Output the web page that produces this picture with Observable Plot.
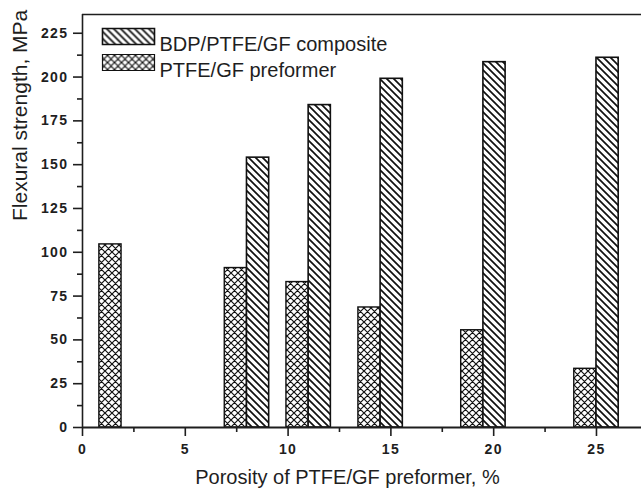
<!DOCTYPE html>
<html>
<head>
<meta charset="utf-8">
<script src="https://cdn.jsdelivr.net/npm/d3@7"></script>
<script src="https://cdn.jsdelivr.net/npm/@observablehq/plot@0.6"></script>
<style>
  html, body { margin: 0; padding: 0; background: white; }
  svg { display: block; }
  g[aria-label="y-axis tick label"] text,
  g[aria-label="x-axis tick label"] text { letter-spacing: 1.4px; }
</style>
</head>
<body>
<div id="chart"></div>
<script>
// ---- data ----
const porosity  = [1.9, 8, 11, 14.5, 19.5, 25];
const preformer = [104.5, 91, 83, 68.5, 55.5, 33.5];
const composite = [null, 154, 184, 199, 208.5, 211];
const seriesNames = ["BDP/PTFE/GF composite", "PTFE/GF preformer"];
const xTicks = [0, 5, 10, 15, 20, 25];
const xMinor = [2.5, 7.5, 12.5, 17.5, 22.5];
const yTicks = [0, 25, 50, 75, 100, 125, 150, 175, 200, 225];
const yMinor = [12.5, 37.5, 62.5, 87.5, 112.5, 137.5, 162.5, 187.5, 212.5];
const xLabel = "Porosity of PTFE/GF preformer, %";
const yLabel = "Flexural strength, MPa";

// ---- derived tables ----
const barW = 1.08;
const xMax = 27.19, yMax = 235.7;
const pre = porosity.map((p, i) => ({p, v: preformer[i]})).filter(d => d.v != null);
const comp = porosity.map((p, i) => ({p, v: composite[i]})).filter(d => d.v != null);

const ink = "#1e1e1e";
const swatch = {draw(ctx) { ctx.rect(-26, -8, 52, 16); }};

const chart = Plot.plot({
  width: 641,
  height: 493,
  marginLeft: 82,
  marginRight: 0,
  marginTop: 14,
  marginBottom: 66,
  style: {fontFamily: "'Liberation Sans', Arial, sans-serif", color: ink, background: "white"},
  x: {domain: [0, xMax], axis: null},
  y: {domain: [0, yMax], axis: null},
  marks: [
    Plot.rect(pre, {x1: d => d.p - barW, x2: d => d.p, y1: 0, y2: d => d.v,
      fill: "url(#hatchX)", stroke: "#111", strokeWidth: 1.4}),
    Plot.rect(comp, {x1: d => d.p, x2: d => d.p + barW, y1: 0, y2: d => d.v,
      fill: "url(#hatchD)", stroke: "#111", strokeWidth: 1.6}),
    // frame (no right edge visible)
    Plot.ruleY([yMax], {stroke: ink, strokeWidth: 1.5}),
    Plot.ruleX([0], {stroke: ink, strokeWidth: 1.6}),
    Plot.ruleY([0], {stroke: ink, strokeWidth: 1.8}),
    // axes
    Plot.axisY({ticks: yTicks, tickSize: 9, tickPadding: 5, fontSize: 14, fontWeight: "bold", label: null, stroke: ink, strokeWidth: 1.6}),
    Plot.axisY({ticks: yMinor, tickSize: 5, tickFormat: () => "", label: null, stroke: ink, strokeWidth: 1.6}),
    Plot.axisX({ticks: xTicks, tickSize: 9, tickPadding: 8, fontSize: 14, fontWeight: "bold", label: null, stroke: ink, strokeWidth: 1.6}),
    Plot.axisX({ticks: xMinor, tickSize: 5, tickFormat: () => "", label: null, stroke: ink, strokeWidth: 1.6}),
    // axis titles
    Plot.text([yLabel], {text: d => d, frameAnchor: "left", rotate: -90, dx: -62, fontSize: 21, fill: ink}),
    Plot.text([xLabel], {text: d => d, frameAnchor: "bottom", dx: -14.5, dy: 56, fontSize: 20, fill: ink}),
    // legend
    Plot.dot([seriesNames[0]], {frameAnchor: "top-left", dx: 46, dy: 22, symbol: swatch, fill: "url(#hatchD)", stroke: "#111", strokeWidth: 1.6}),
    Plot.dot([seriesNames[1]], {frameAnchor: "top-left", dx: 46, dy: 48, symbol: swatch, fill: "url(#hatchX)", stroke: "#111", strokeWidth: 1.2}),
    Plot.text([seriesNames[0]], {text: d => d, frameAnchor: "top-left", dx: 77, dy: 22.3, textAnchor: "start", fontSize: 20, fill: ink}),
    Plot.text([seriesNames[1]], {text: d => d, frameAnchor: "top-left", dx: 77, dy: 47.8, textAnchor: "start", fontSize: 20, fill: ink})
  ]
});

d3.select(chart).insert("defs", ":first-child").html(`
  <pattern id="hatchD" patternUnits="userSpaceOnUse" width="7" height="7">
    <rect width="7" height="7" fill="white"/>
    <path d="M-1,-1L8,8M-8,-1L1,8M6,-1L15,8" stroke="#111" stroke-width="1.7"/>
  </pattern>
  <pattern id="hatchX" patternUnits="userSpaceOnUse" width="7" height="7">
    <rect width="7" height="7" fill="white"/>
    <path d="M-1,-1L8,8M-8,-1L1,8M6,-1L15,8M8,-1L-1,8M15,-1L6,8M1,-1L-8,8" stroke="#111" stroke-width="1.2"/>
  </pattern>
`);

document.getElementById("chart").appendChild(chart);
</script>
</body>
</html>
